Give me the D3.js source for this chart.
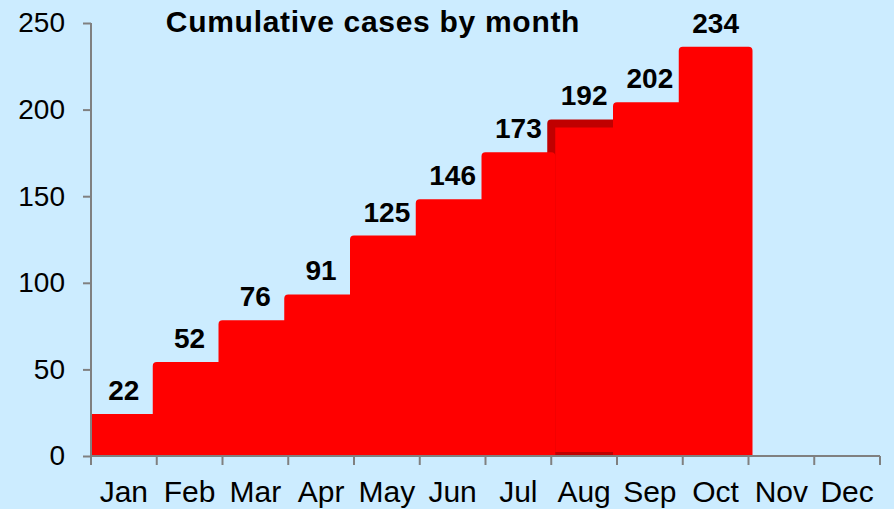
<!DOCTYPE html>
<html>
<head>
<meta charset="utf-8">
<script src="https://cdn.jsdelivr.net/npm/d3@7/dist/d3.min.js"></script>
<style>
  html, body { margin: 0; padding: 0; background: #CCECFF; }
  svg { display: block; }
  text { font-family: Arial, "Liberation Sans", Helvetica, sans-serif; fill: #000; }
</style>
</head>
<body>
<div id="chart"></div>
<script>
// Monthly cumulative case counts
const months = ["Jan", "Feb", "Mar", "Apr", "May", "Jun", "Jul", "Aug", "Sep", "Oct", "Nov", "Dec"];
const cumulativeCases = [22, 52, 76, 91, 125, 146, 173, 192, 202, 234, null, null];
const yTicks = [0, 50, 100, 150, 200, 250];
const highlightMonth = "Aug";
const chartTitle = "Cumulative cases by month";

const width = 894, height = 509;
const margin = { top: 23, right: 14, bottom: 53, left: 91 };

const svg = d3.select("#chart").append("svg")
  .attr("width", width).attr("height", height);

svg.append("rect").attr("width", width).attr("height", height).attr("fill", "#CCECFF");

const x = d3.scaleBand()
  .domain(months)
  .range([margin.left, width - margin.right])
  .padding(0);

const y = d3.scaleLinear()
  .domain([0, 250])
  .range([height - margin.bottom, margin.top]);

const y0 = y(0);

// clip bars to the plot area (left of the value axis and below the category axis)
svg.append("clipPath").attr("id", "plotClip")
  .append("rect")
  .attr("x", margin.left).attr("y", 0)
  .attr("width", width - margin.left).attr("height", y0);

const data = months.map((m, i) => ({ month: m, value: cumulativeCases[i] }))
  .filter(d => d.value != null);

// highlighted bar first so its neighbours overlap its outline
data.sort((a, b) => (b.month === highlightMonth) - (a.month === highlightMonth));

const bars = svg.append("g").attr("clip-path", "url(#plotClip)");
bars.selectAll("rect")
  .data(data)
  .join("rect")
  .attr("x", d => x(d.month))
  .attr("y", d => y(d.value))
  .attr("width", x.bandwidth())
  .attr("height", d => y0 - y(d.value))
  .attr("fill", "#FF0000")
  .attr("stroke", d => d.month === highlightMonth ? "#C00000" : "#FF0000")
  .attr("stroke-width", 8)
  .attr("stroke-linejoin", "round");

// value labels
svg.append("g").selectAll("text")
  .data(data)
  .join("text")
  .attr("x", d => x(d.month) + x.bandwidth() / 2)
  .attr("y", d => y(d.value) - 18)
  .attr("text-anchor", "middle")
  .attr("font-size", 28)
  .attr("font-weight", "bold")
  .text(d => d.value);

// value axis
const yAxis = svg.append("g")
  .attr("transform", `translate(${margin.left},0)`)
  .call(d3.axisLeft(y).tickValues(yTicks).tickSize(8).tickPadding(18));
yAxis.select(".domain").attr("stroke", "#808080").attr("stroke-width", 2)
  .attr("d", `M0,${y(250)}V${y0}`);
yAxis.selectAll(".tick line").attr("stroke", "#808080").attr("stroke-width", 2);
yAxis.selectAll(".tick text")
  .attr("font-size", 28)
  .attr("font-family", "Arial, 'Liberation Sans', sans-serif")
  .attr("fill", "#000");

// category axis: ticks on band boundaries
const xAxis = svg.append("g").attr("transform", `translate(0,${y0})`);
xAxis.append("line")
  .attr("x1", margin.left).attr("x2", width - margin.right)
  .attr("y1", 0).attr("y2", 0)
  .attr("stroke", "#808080").attr("stroke-width", 2);
const boundaries = months.map(m => x(m)).concat([x(months[months.length - 1]) + x.bandwidth()]);
xAxis.selectAll("line.tick")
  .data(boundaries)
  .join("line")
  .attr("class", "tick")
  .attr("x1", d => d).attr("x2", d => d)
  .attr("y1", 0).attr("y2", 9)
  .attr("stroke", "#808080").attr("stroke-width", 2);
xAxis.selectAll("text")
  .data(months)
  .join("text")
  .attr("x", d => x(d) + x.bandwidth() / 2)
  .attr("y", 46)
  .attr("text-anchor", "middle")
  .attr("font-size", 30)
  .text(d => d);

// title
svg.append("text")
  .attr("x", 373)
  .attr("y", 32)
  .attr("text-anchor", "middle")
  .attr("font-size", 30)
  .attr("font-weight", "bold")
  .attr("letter-spacing", 0.7)
  .text(chartTitle);
</script>
</body>
</html>
